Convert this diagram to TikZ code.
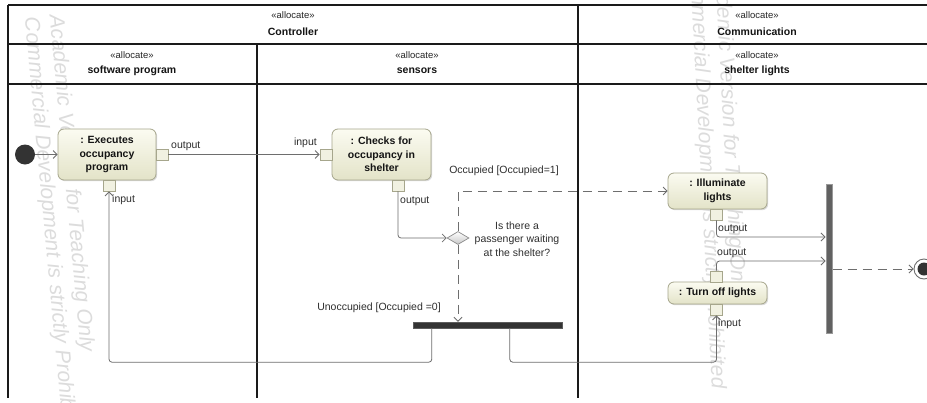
\documentclass[tikz,border=0pt]{standalone}
\usepackage{fontspec}
\setmainfont{Liberation Sans}
\usetikzlibrary{arrows.meta,shapes.geometric,shadows}

\definecolor{lanecol}{HTML}{1A1A1A}
\definecolor{flowgray}{HTML}{6E6E6E}
\definecolor{acttop}{HTML}{FBFBF1}
\definecolor{actbot}{HTML}{E3E3C8}
\definecolor{actdraw}{HTML}{A6A68C}
\definecolor{wmark}{HTML}{DCDCDC}
\definecolor{darknode}{HTML}{333333}

\tikzset{
  lane/.style={line width=1.4pt, draw=lanecol},
  stereo/.style={font=\fontsize{9.5}{11}\selectfont, text=black!85, inner sep=0pt},
  lanename/.style={font=\fontsize{10.5}{12}\selectfont\bfseries, text=black!92, inner sep=0pt},
  action/.style={draw=actdraw, line width=0.8pt, rounded corners=6pt,
    top color=acttop, bottom color=actbot, align=center,
    font=\fontsize{10.5}{13.5}\selectfont\bfseries, text=black!92, inner sep=2pt,
    general shadow={shadow xshift=1.2pt, shadow yshift=-1.2pt, fill=black!14}},
  pinbox/.style={draw=actdraw, line width=0.8pt, fill=acttop!60!actbot,
    minimum width=12pt, minimum height=11pt, inner sep=0pt},
  flow/.style={draw=flowgray, line width=0.8pt, -{Straight Barb[length=4pt,width=8pt]}},
  dflow/.style={flow, dash pattern=on 9pt off 6pt},
  lbl/.style={font=\fontsize{10.5}{13.5}\selectfont, text=black!82, inner sep=1pt},
  decision/.style={diamond, draw=flowgray!80, line width=0.7pt, top color=white, bottom color=black!22,
    minimum width=22pt, minimum height=13pt, inner sep=0pt, aspect=1.7},
  hbar/.style={fill=darknode, draw=darknode!80, minimum width=149pt, minimum height=6pt, inner sep=0pt},
  vbar/.style={fill=black!62, draw=black!40, line width=1pt, minimum width=6pt, minimum height=149pt, inner sep=0pt},
  initnode/.style={circle, fill=darknode, minimum size=20pt, inner sep=0pt},
  finalnode/.style={circle, draw=flowgray, line width=0.9pt, fill=white, minimum size=20pt, inner sep=0pt},
  wm/.style={font=\fontsize{21}{25}\selectfont\itshape, text=wmark, align=left, inner sep=0pt}
}

\begin{document}
\begin{tikzpicture}[x=1pt,y=-1pt]
\useasboundingbox (0,0) rectangle (927,402);
\fill[white] (0,0) rectangle (927,402);

% tool watermark, drawn underneath everything
\node[wm, rotate=-84.7, anchor=north west] (wmA) at (65,14)
  {Academic Version for Teaching Only\\Commercial Development is strictly Prohibited};
\node[wm, rotate=-87, anchor=north west] (wmB) at (730,-41)
  {Academic Version for Teaching Only\\Commercial Development is strictly Prohibited};

% swimlane frame
\draw[lane] (8,5) -- (940,5);
\draw[lane] (8,44) -- (940,44);
\draw[lane] (8,84) -- (940,84);
\draw[lane] (8,5) -- (8,398);
\draw[lane] (257,44) -- (257,398);
\draw[lane] (578,5) -- (578,398);

% lane headers
\node[stereo]   (sCtrl) at (293,15) {«allocate»};
\node[lanename] (nCtrl) at (293,32) {Controller};
\node[stereo]   (sComm) at (757,15) {«allocate»};
\node[lanename] (nComm) at (757,32) {Communication};
\node[stereo]   (sSoft) at (132,55) {«allocate»};
\node[lanename] (nSoft) at (132,71) {software program};
\node[stereo]   (sSens) at (417,55) {«allocate»};
\node[lanename] (nSens) at (417,71) {sensors};
\node[stereo]   (sShel) at (757,55) {«allocate»};
\node[lanename] (nShel) at (757,71) {shelter lights};

% actions
\node[action, minimum width=98pt, minimum height=51pt] (exec) at (107,154.5) {: Executes\\occupancy\\program};
\node[action, minimum width=99pt, minimum height=51pt] (checks) at (381.5,154.5) {: Checks for\\occupancy in\\shelter};
\node[action, minimum width=99pt, minimum height=36pt] (illum) at (717.5,191) {: Illuminate\\lights};
\node[action, minimum width=99pt, minimum height=22pt] (turnoff) at (717.5,293) {: Turn off lights};

% pins
\node[pinbox] (execout) at (162,154.5) {};
\node[pinbox] (execin) at (109,185.5) {};
\node[pinbox] (checksin) at (326,154.5) {};
\node[pinbox] (checksout) at (398,185.5) {};
\node[pinbox] (illumout) at (716.5,214.5) {};
\node[pinbox] (turnout) at (716.5,276.5) {};
\node[pinbox] (turnin) at (716.5,309.5) {};

% control nodes
\node[initnode] (init) at (25,154.5) {};
\node[decision] (dec) at (458,238) {};
\node[hbar] (fork) at (487.5,325) {};
\node[vbar] (join) at (829,258.5) {};
\node[finalnode] (final) at (924,269) {};
\fill[darknode] (final.center) circle (6.5);

% flows
\draw[flow] (init) -- (exec.west);
\draw[flow] (execout) -- (checksin);
\draw[flow, rounded corners=3pt] (checksout.south) |- (dec.west);
\draw[dflow] (dec.north) |- (illum.west);
\draw[dflow] (dec.south) -- (dec.south |- fork.north);
\draw[flow, rounded corners=3pt] ([xshift=19pt]fork.south west) -- ++(0,34) -| (execin.south);
\draw[flow, rounded corners=3pt] ([xshift=97pt]fork.south west) -- ++(0,34) -| (turnin.south);
\draw[flow, rounded corners=3pt] (illumout.south) |- ([yshift=21.5pt]join.west);
\draw[flow, rounded corners=3pt] (turnout.north) |- ([yshift=-2.5pt]join.west);
\draw[dflow] ([yshift=-10.5pt]join.east) -- (final);

% pin and guard labels
\node[lbl, anchor=west] (lOut1) at (170,146) {output};
\node[lbl, anchor=west] (lIn1) at (111,200) {input};
\node[lbl, anchor=east] (lIn2) at (318,143) {input};
\node[lbl, anchor=west] (lOut2) at (399,201) {output};
\node[lbl, align=center] (lQ) at (517,239) {Is there a\\passenger waiting\\at the shelter?};
\node[lbl] (lOcc) at (504,171) {Occupied [Occupied=1]};
\node[lbl] (lUnocc) at (379,308) {Unoccupied [Occupied =0]};
\node[lbl, anchor=west] (lOut3) at (717,229) {output};
\node[lbl, anchor=west] (lOut4) at (716,253) {output};
\node[lbl, anchor=west] (lIn3) at (717,324) {input};
\end{tikzpicture}
\end{document}
